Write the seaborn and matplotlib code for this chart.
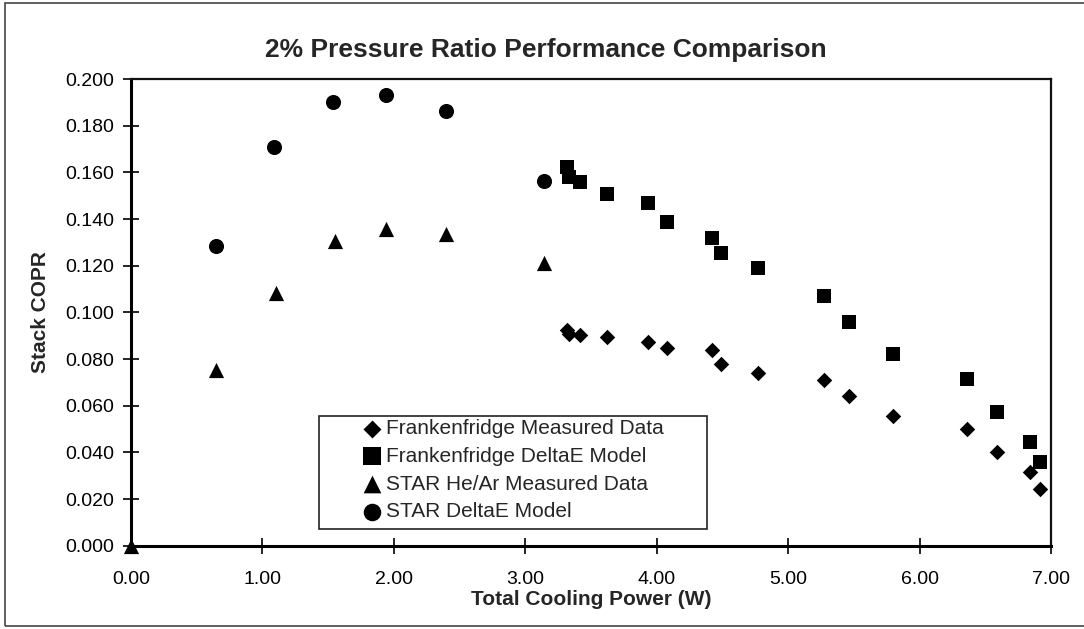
import numpy as np
import pandas as pd
import seaborn as sns
import matplotlib.pyplot as plt
from matplotlib.patches import Rectangle

# Frankenfridge: measured data and DeltaE model share the cooling power values
ff_power = [3.32, 3.33, 3.42, 3.62, 3.93, 4.08, 4.42, 4.49, 4.77, 5.27, 5.46, 5.80, 6.36, 6.59, 6.84, 6.92]
ff_measured = [0.0925, 0.0908, 0.0904, 0.0896, 0.0872, 0.0847, 0.0840, 0.0779, 0.0742,
               0.0711, 0.0643, 0.0556, 0.0499, 0.0400, 0.0315, 0.0244]
ff_model = [0.1622, 0.1581, 0.1557, 0.1506, 0.1470, 0.1389, 0.1320, 0.1256, 0.1192,
            0.1070, 0.0960, 0.0823, 0.0715, 0.0573, 0.0443, 0.0357]

# STAR He/Ar
star_meas_power = [0.00, 0.65, 1.10, 1.55, 1.94, 2.40, 3.14]
star_measured = [0.000, 0.0752, 0.1083, 0.1307, 0.1358, 0.1334, 0.1212]
star_model_power = [0.65, 1.09, 1.54, 1.94, 2.40, 3.14]
star_model = [0.1284, 0.1708, 0.1901, 0.1933, 0.1863, 0.1564]

x_ticks = [0, 1, 2, 3, 4, 5, 6, 7]
y_ticks = [0.00, 0.02, 0.04, 0.06, 0.08, 0.10, 0.12, 0.14, 0.16, 0.18, 0.20]

sns.set_style('white')
plt.rcParams['font.family'] = ['Liberation Sans', 'DejaVu Sans']

W, H = 1084, 629
fig = plt.figure(figsize=(W / 100, H / 100), dpi=100)
ax = fig.add_axes([131 / W, 1 - 545.7 / H, 920 / W, 466.7 / H])

series = [
    ('Frankenfridge Measured Data', ff_power, ff_measured, 'D', 62),
    ('Frankenfridge DeltaE Model', ff_power, ff_model, 's', 112),
    ('STAR He/Ar Measured Data', star_meas_power, star_measured, '^', 120),
    ('STAR DeltaE Model', star_model_power, star_model, 'o', 118),
]
for name, xs, ys, mk, size in series:
    df = pd.DataFrame({'power': xs, 'copr': ys})
    sns.scatterplot(data=df, x='power', y='copr', ax=ax, marker=mk, s=size,
                    color='black', linewidth=0, label=name, clip_on=False, zorder=3)

ax.set_xlim(0, 7)
ax.set_ylim(0, 0.2)
ax.set_xticks(x_ticks)
ax.set_xticklabels([f'{v:.2f}' for v in x_ticks])
ax.set_yticks(y_ticks)
ax.set_yticklabels([f'{v:.3f}' for v in y_ticks])
ax.tick_params(axis='both', which='major', direction='inout', length=12, width=1.2,
               colors='black', labelsize=14, left=True, bottom=True)
ax.tick_params(axis='x', pad=12)
ax.tick_params(axis='y', pad=6)

for side in ['left', 'bottom']:
    ax.spines[side].set_linewidth(2.2)
    ax.spines[side].set_color('black')
for side in ['top', 'right']:
    ax.spines[side].set_linewidth(1.6)
    ax.spines[side].set_color('#111111')

ax.set_xlabel('Total Cooling Power (W)', fontsize=15, fontweight='bold')
ax.set_ylabel('Stack COPR', fontsize=15, fontweight='bold')
ax.xaxis.set_label_coords(0.5, -0.095)
ax.yaxis.set_label_coords(-0.088, 0.5)

fig.text(546 / W, 1 - 50 / H, '2% Pressure Ratio Performance Comparison',
         ha='center', va='center', fontsize=19, fontweight='bold')

leg = ax.legend(loc='upper left', bbox_to_anchor=(361.6 / W, 1 - 419 / H),
                bbox_transform=fig.transFigure, frameon=False, fontsize=15,
                borderpad=0, handlelength=1.0, handletextpad=0.15,
                labelspacing=0.42, borderaxespad=0)
leg.set_zorder(6)
# legend markers a little larger than the plotted ones, as in the original
for handle, (_, _, _, _, size) in zip(leg.legend_handles, series):
    handle.set_sizes([size * 1.35])

# legend box, drawn under the legend entries
ax.add_patch(Rectangle((319 / W, 1 - 529 / H), 388 / W, 113 / H, transform=fig.transFigure,
                       facecolor='white', edgecolor='#222222', lw=1.2, zorder=5, clip_on=False))

# outer chart border
fig.patches.append(Rectangle((5 / W, 3 / H), 1.0, 1 - 6 / H, transform=fig.transFigure,
                             fill=False, edgecolor='#444444', lw=1.2))

fig.savefig('out.png', dpi=100)
